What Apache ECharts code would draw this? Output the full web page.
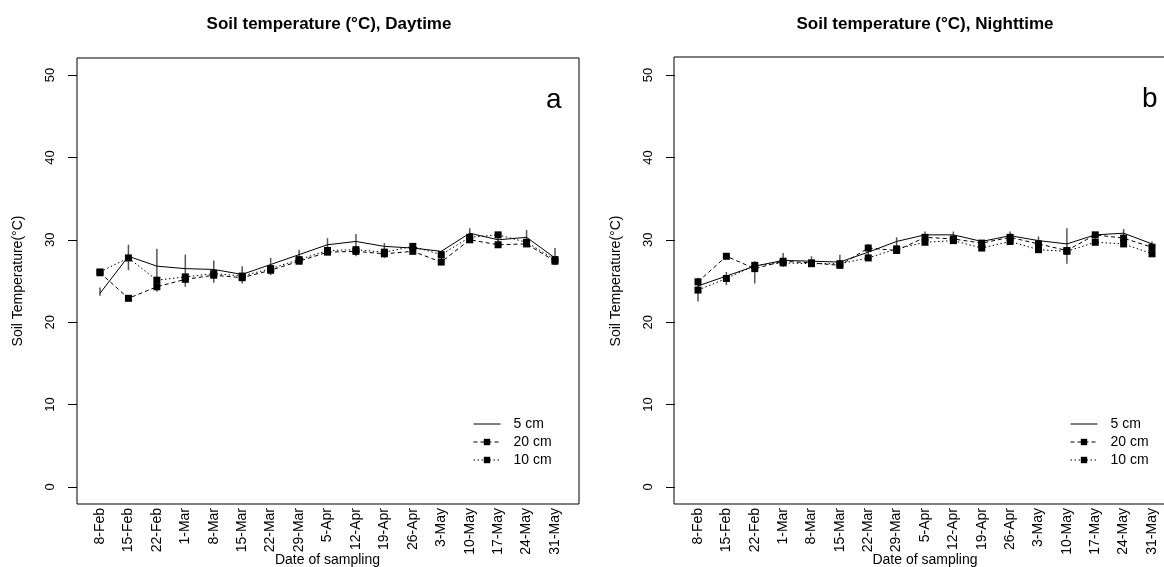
<!DOCTYPE html>
<html>
<head>
<meta charset="utf-8">
<script src="https://cdn.jsdelivr.net/npm/echarts@6/dist/echarts.min.js"></script>
<style>
html, body { margin: 0; padding: 0; background: #fff; }
#main { width: 1164px; height: 567px; }
</style>
</head>
<body>
<div id="main"></div>
<script>
// sampling dates
var dates = ['8-Feb','15-Feb','22-Feb','1-Mar','8-Mar','15-Mar','22-Mar','29-Mar','5-Apr','12-Apr','19-Apr','26-Apr','3-May','10-May','17-May','24-May','31-May'];

// daytime (a)
var day5  = [23.5, 28.0, 26.8, 26.5, 26.4, 25.8, 27.0, 28.2, 29.4, 29.8, 29.2, 29.0, 28.6, 30.8, 30.0, 30.3, 27.8];
var day20 = [26.0, 22.9, 24.3, 25.2, 25.7, 25.4, 26.3, 27.4, 28.5, 28.6, 28.3, 28.6, 27.3, 30.0, 29.4, 29.5, 27.4];
var day10 = [26.1, 27.8, 25.1, 25.5, 25.9, 25.6, 26.5, 27.6, 28.7, 28.8, 28.5, 29.2, 28.2, 30.3, 30.6, 29.7, 27.6];
var dayLow  = [23.2, 26.3, 23.7, 24.3, 24.8, 24.7, 25.7, 27.1, 28.2, 28.0, 27.8, 28.4, 27.0, 29.8, 29.2, 29.4, 26.9];
var dayHigh = [24.2, 29.4, 28.9, 28.2, 27.5, 26.8, 27.8, 28.8, 30.2, 30.7, 29.6, 29.5, 28.4, 31.4, 30.9, 31.2, 29.0];

// nighttime (b)
var night5  = [24.4, 25.6, 26.8, 27.5, 27.4, 27.3, 28.5, 29.8, 30.6, 30.6, 29.8, 30.5, 29.9, 29.5, 30.6, 30.8, 29.5];
var night20 = [24.9, 28.0, 26.5, 27.4, 27.2, 26.9, 29.0, 28.7, 30.3, 30.1, 29.6, 30.3, 29.5, 28.7, 30.6, 30.2, 29.1];
var night10 = [23.9, 25.3, 26.9, 27.2, 27.1, 27.1, 27.8, 28.9, 29.7, 29.9, 29.0, 29.8, 28.8, 28.6, 29.7, 29.5, 28.3];
var nightLow  = [22.5, 24.5, 24.7, 26.7, 26.7, 26.6, 27.6, 28.4, 29.5, 29.8, 28.9, 29.7, 28.7, 27.1, 29.5, 29.3, 28.0];
var nightHigh = [25.4, 26.1, 27.4, 28.4, 28.0, 28.2, 29.5, 30.3, 31.0, 31.0, 29.8, 31.0, 30.4, 31.4, 30.9, 31.3, 29.8];

var FONT = 'Liberation Sans, Arial, sans-serif';

var myChart = echarts.init(document.getElementById('main'));

function errData(low, high) {
    return low.map(function (v, i) { return [i, v, high[i]]; });
}

function renderBar(params, api) {
    var lo = api.coord([api.value(0), api.value(1)]);
    var hi = api.coord([api.value(0), api.value(2)]);
    return {
        type: 'line',
        shape: { x1: lo[0], y1: lo[1], x2: hi[0], y2: hi[1] },
        style: { stroke: '#555', lineWidth: 1.5 }
    };
}

// one panel = a box grid (frame only) + a data grid
function panelSeries(idx, v5, v20, v10, low, high) {
    return [
        {
            name: 'err' + idx, type: 'custom', xAxisIndex: idx, yAxisIndex: idx,
            renderItem: renderBar, encode: { x: 0, y: [1, 2] },
            data: errData(low, high), z: 1, silent: true
        },
        {
            name: '5 cm', type: 'line', xAxisIndex: idx, yAxisIndex: idx,
            data: v5, symbol: 'none',
            itemStyle: { color: '#000' },
            lineStyle: { color: '#000', width: 1, type: 'solid' }, z: 2
        },
        {
            name: '20 cm', type: 'line', xAxisIndex: idx, yAxisIndex: idx,
            data: v20, symbol: 'rect', symbolSize: 7,
            itemStyle: { color: '#000' },
            lineStyle: { color: '#000', width: 1, type: [4, 3] }, z: 3
        },
        {
            name: '10 cm', type: 'line', xAxisIndex: idx, yAxisIndex: idx,
            data: v10, symbol: 'rect', symbolSize: 7,
            itemStyle: { color: '#000' },
            lineStyle: { color: '#000', width: 1, type: [1.5, 2.5] }, z: 3
        }
    ];
}

function dataXAxis(grid) {
    return {
        gridIndex: grid, type: 'category', data: dates, boundaryGap: false,
        offset: 17,
        axisLine: { show: false }, axisTick: { show: false }, splitLine: { show: false },
        axisLabel: { rotate: 90, margin: 4, interval: 0, fontSize: 14, color: '#000', fontFamily: FONT },
        name: 'Date of sampling', nameLocation: 'middle', nameGap: 49, nameMoveOverlap: false,
        nameTextStyle: { fontSize: 14, color: '#000', fontFamily: FONT }
    };
}

function dataYAxis(grid) {
    return {
        gridIndex: grid, type: 'value', min: 0, max: 50, interval: 10,
        offset: 23,
        axisLine: { show: false },
        axisTick: { show: true, length: 9, lineStyle: { color: '#000' } },
        splitLine: { show: false },
        axisLabel: { rotate: 90, margin: 20, fontSize: 13, color: '#000', fontFamily: FONT },
        name: 'Soil Temperature(°C)', nameLocation: 'middle', nameGap: 52, nameMoveOverlap: false,
        nameTextStyle: { fontSize: 14, color: '#000', fontFamily: FONT }
    };
}

function hiddenAxis(grid) {
    return { gridIndex: grid, type: 'value', show: false, min: 0, max: 1 };
}

function legendAt(left) {
    return {
        left: left, top: 412, orient: 'vertical',
        itemWidth: 27, itemHeight: 8, itemGap: 4,
        lineStyle: { width: 1 },
        data: [
            { name: '5 cm', itemStyle: { opacity: 0 } },
            { name: '20 cm' },
            { name: '10 cm' }
        ],
        textStyle: { fontSize: 14, color: '#000', fontFamily: FONT, padding: [0, 0, 0, 8] }
    };
}

var options = {
    backgroundColor: '#fff',
    animation: false,
    title: [
        { text: 'Soil temperature (°C), Daytime', left: 324, top: 11, textAlign: 'center',
          textStyle: { fontSize: 17, fontWeight: 'bold', color: '#000', fontFamily: FONT } },
        { text: 'Soil temperature (°C), Nighttime', left: 920, top: 11, textAlign: 'center',
          textStyle: { fontSize: 17, fontWeight: 'bold', color: '#000', fontFamily: FONT } }
    ],
    legend: [legendAt(468), legendAt(1065)],
    grid: [
        { left: 77, top: 58, width: 502, height: 446, show: true, borderColor: '#000', borderWidth: 1, backgroundColor: 'transparent', outerBoundsMode: 'none' },
        { left: 100, top: 75, width: 455, height: 412, outerBoundsMode: 'none' },
        { left: 674, top: 57, width: 502, height: 447, show: true, borderColor: '#000', borderWidth: 1, backgroundColor: 'transparent', outerBoundsMode: 'none' },
        { left: 698, top: 75, width: 454, height: 412, outerBoundsMode: 'none' }
    ],
    xAxis: [hiddenAxis(0), dataXAxis(1), hiddenAxis(2), dataXAxis(3)],
    yAxis: [hiddenAxis(0), dataYAxis(1), hiddenAxis(2), dataYAxis(3)],
    graphic: [
        { type: 'text', left: 546, top: 86, style: { text: 'a', fontSize: 28, fill: '#000', fontFamily: FONT } },
        { type: 'text', left: 1142, top: 85, style: { text: 'b', fontSize: 28, fill: '#000', fontFamily: FONT } }
    ],
    series: [].concat(
        panelSeries(1, day5, day20, day10, dayLow, dayHigh),
        panelSeries(3, night5, night20, night10, nightLow, nightHigh)
    )
};

myChart.setOption(options, true);
window.onresize = function () {
    myChart.resize();
};
</script>
</body>
</html>
